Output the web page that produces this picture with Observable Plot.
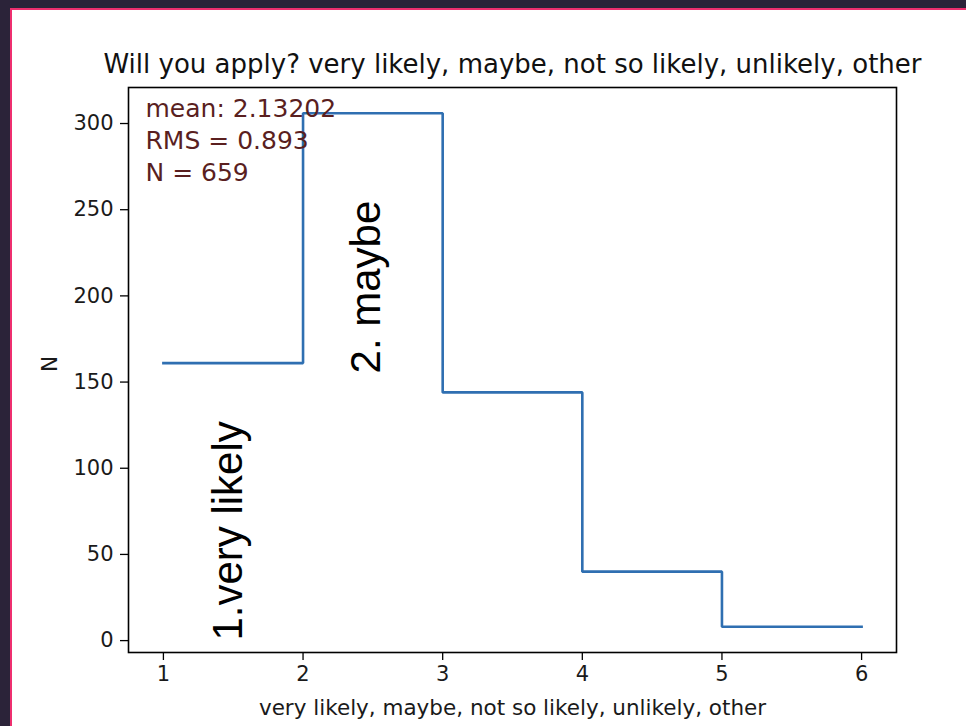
<!DOCTYPE html>
<html>
<head>
<meta charset="utf-8">
<script src="https://cdn.jsdelivr.net/npm/d3@7"></script>
<script src="https://cdn.jsdelivr.net/npm/@observablehq/plot@0.6"></script>
<style>
  html, body { margin: 0; padding: 0; }
  body { width: 966px; height: 726px; background: #2b2339; position: relative; overflow: hidden; }
  #panel { position: absolute; left: 10px; top: 8px; right: 0; bottom: 0; background: #fff;
           border-left: 2px solid #ee2f6f; border-top: 2px solid #ee2f6f; }
  #chart { position: absolute; left: 0; top: 0; }
</style>
</head>
<body>
<div id="panel"></div>
<div id="chart"></div>
<script>
// Answers to "Will you apply?", binned on a 1..6 scale
const binEdges = [1, 2, 3, 4, 5, 6];
const counts = [161, 306, 144, 40, 8];
const xTicks = [1, 2, 3, 4, 5, 6];
const yTicks = [0, 50, 100, 150, 200, 250, 300];
const titleText = "Will you apply? very likely, maybe, not so likely, unlikely, other";
const xLabel = "very likely, maybe, not so likely, unlikely, other";
const yLabel = "N";
const noteLabels = ["1.very likely", "2. maybe"];

// Histogram statistics from the bin counts (bin k holds value k)
const N = d3.sum(counts);
const mean = d3.sum(counts, (c, i) => c * binEdges[i]) / N;
const meanSq = d3.sum(counts, (c, i) => c * binEdges[i] ** 2) / N;
const rms = Math.sqrt(meanSq - mean * mean);
const statsText = [`mean: ${mean.toFixed(5)}`, `RMS = ${rms.toFixed(3)}`, `N = ${N}`].join("\n");

// Step outline: each edge carries the count of the bin to its right; last bin repeated
const steps = binEdges.map((x, i) => ({x, y: counts[Math.min(i, counts.length - 1)]}));

// 5% padding around the data range on both axes
const pad = (lo, hi) => [lo - 0.05 * (hi - lo), hi + 0.05 * (hi - lo)];
const xDomain = pad(d3.min(binEdges), d3.max(binEdges));
const yDomain = pad(d3.min(counts), d3.max(counts));

const tickColor = "#1a1a1a";
const bigFont = "'Liberation Sans', Arial, sans-serif";

const chart = Plot.plot({
  width: 966,
  height: 726,
  marginLeft: 128,
  marginRight: 70,
  marginTop: 87,
  marginBottom: 74,
  style: {background: "transparent", fontFamily: "'DejaVu Sans', sans-serif", color: "black"},
  x: {domain: xDomain},
  y: {domain: yDomain},
  marks: [
    Plot.frame({stroke: "black", strokeWidth: 1.6}),
    Plot.axisX({ticks: xTicks, tickFormat: "d", tickSize: 8, tickPadding: 6, fontSize: 21, label: null,
                stroke: "black", strokeWidth: 1.3, fill: tickColor}),
    Plot.axisY({ticks: yTicks, tickFormat: "d", tickSize: 8, tickPadding: 7, fontSize: 21, label: null,
                stroke: "black", strokeWidth: 1.3, fill: tickColor}),
    Plot.line(steps, {x: "x", y: "y", curve: "step-after", stroke: "#2f6fb1", strokeWidth: 2.6,
                      strokeLinecap: "square", strokeLinejoin: "miter"}),
    Plot.text([noteLabels[0]], {x: () => 1.35, y: () => 0, rotate: -90, textAnchor: "start",
                                lineAnchor: "top", fontSize: 42, fontFamily: bigFont, fill: "black"}),
    Plot.text([noteLabels[1]], {x: () => 2.34, y: () => 155, rotate: -90, textAnchor: "start",
                                lineAnchor: "top", fontSize: 42, fontFamily: bigFont, fill: "black"}),
    Plot.text([statsText], {frameAnchor: "top-left", dx: 17, dy: 6.5, lineAnchor: "top", textAnchor: "start",
                            lineHeight: 1.29, fontSize: 25, fill: "#5a1f1f"}),
    Plot.text([titleText], {frameAnchor: "top", dy: -23, lineAnchor: "middle", fontSize: 26, fill: "#111"}),
    Plot.text([xLabel], {frameAnchor: "bottom", dy: 56, lineAnchor: "middle", fontSize: 21.5, fill: tickColor}),
    Plot.text([yLabel], {frameAnchor: "left", dx: -78, dy: 2, rotate: -90, lineAnchor: "middle",
                         fontSize: 21.5, fill: tickColor})
  ]
});
document.getElementById("chart").appendChild(chart);
</script>
</body>
</html>
